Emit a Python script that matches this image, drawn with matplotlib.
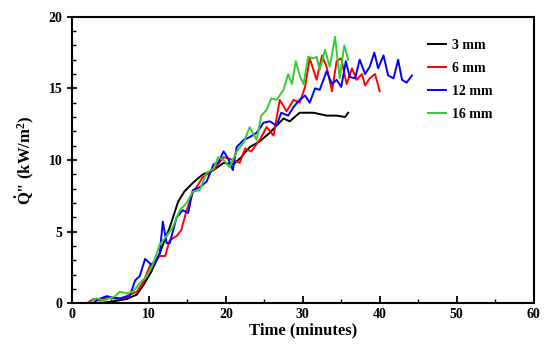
import numpy as np
import matplotlib
matplotlib.use('Agg')
import matplotlib.pyplot as plt
from matplotlib.ticker import MultipleLocator

## heat flux curves (time in minutes, kW/m2)
t_3 = [1.5, 3.0, 4.9, 7.1, 8.4, 9.2, 10.3, 11.4, 12.7, 13.8, 14.6, 15.7, 17.0, 18.4, 19.7,
       21.0, 22.0, 23.1, 24.4, 25.7, 27.5, 28.3, 29.6, 31.4, 33.1, 34.4, 35.5, 35.9]
q_3 = [0.0, 0.0, 0.1, 0.3, 0.6, 1.2, 2.2, 3.5, 5.3, 7.1, 7.8, 8.4, 9.0, 9.3, 9.8,
       9.7, 10.2, 10.9, 11.3, 11.9, 12.9, 12.7, 13.3, 13.3, 13.1, 13.1, 13.0, 13.3]

t_6 = [1.9, 2.8, 3.6, 4.5, 6.2, 7.5, 8.4, 9.3, 10.1, 11.4, 12.1, 12.7, 13.6, 14.2, 14.9, 15.7,
       17.0, 18.4, 19.7, 21.0, 21.8, 22.5, 23.3, 24.4, 25.3, 26.2, 27.0, 27.9, 28.8, 29.6,
       30.3, 30.9, 31.8, 32.5, 33.1, 33.8, 34.4, 35.0, 35.7, 36.4, 37.0, 37.7, 38.1, 38.7,
       39.4, 40.0]
q_6 = [0.0, 0.3, 0.2, 0.4, 0.3, 0.6, 0.8, 1.5, 2.6, 3.3, 3.3, 4.4, 4.7, 5.1, 6.5, 7.7,
       8.8, 9.3, 10.2, 10.0, 9.8, 10.8, 10.6, 11.4, 12.3, 11.7, 14.2, 13.4, 14.2, 14.0,
       15.1, 17.1, 15.6, 17.3, 16.5, 14.8, 16.9, 17.1, 15.3, 16.4, 15.6, 16.0, 15.2, 15.7,
       16.0, 14.8]

t_12 = [2.7, 3.5, 4.5, 5.3, 6.2, 7.5, 8.2, 8.8, 9.5, 10.1, 10.5, 11.0, 11.4, 11.8, 12.3,
        12.7, 13.6, 14.4, 15.1, 15.7, 16.6, 17.5, 18.4, 19.0, 19.7, 20.3, 20.9, 21.4, 22.3,
        23.1, 24.0, 24.9, 25.7, 26.6, 27.2, 28.1, 28.8, 29.6, 30.3, 30.9, 31.6, 32.2, 33.1,
        33.8, 34.4, 35.0, 35.6, 36.1, 36.8, 37.4, 38.1, 38.7, 39.3, 39.8, 40.5, 41.1, 41.8,
        42.4, 42.9, 43.5, 44.2]
q_12 = [0.0, 0.3, 0.5, 0.4, 0.35, 0.5, 1.6, 1.9, 3.1, 2.8, 2.6, 3.0, 3.5, 5.7, 4.2,
        4.2, 6.0, 6.5, 6.3, 7.9, 8.1, 8.5, 9.7, 9.8, 10.6, 10.1, 9.3, 10.9, 11.4,
        11.6, 11.9, 12.6, 12.7, 12.4, 13.3, 13.1, 13.7, 14.2, 14.5, 14.0, 15.0, 14.9, 16.2,
        15.3, 15.6, 15.1, 16.9, 15.8, 15.7, 17.0, 16.0, 16.5, 17.5, 16.4, 17.3, 15.9, 15.7,
        17.0, 15.6, 15.4, 15.9]

t_16 = [2.7, 3.2, 4.1, 4.9, 5.6, 6.2, 7.1, 7.9, 8.8, 9.7, 10.5, 11.4, 12.3, 13.1, 14.0,
        14.9, 15.7, 16.6, 17.5, 18.4, 19.0, 19.7, 20.5, 21.4, 22.3, 23.1, 24.0, 24.6, 25.3,
        25.9, 26.6, 27.5, 28.1, 28.6, 29.1, 29.6, 30.1, 30.7, 31.4, 31.8, 32.2, 32.9, 33.5,
        34.2, 34.8, 35.4, 35.9]
q_16 = [0.2, 0.35, 0.2, 0.35, 0.5, 0.8, 0.7, 0.8, 1.4, 1.9, 2.7, 4.1, 4.7, 5.3, 6.5,
        7.0, 7.8, 7.9, 9.1, 9.4, 10.2, 10.0, 9.5, 10.6, 11.2, 12.3, 11.4, 13.1, 13.5,
        14.3, 14.2, 14.9, 16.0, 15.3, 16.9, 15.9, 15.3, 17.2, 17.1, 17.2, 16.3, 17.7, 16.5,
        18.6, 15.7, 18.0, 17.0]

labels = ['3 mm', '6 mm', '12 mm', '16 mm']
colors = ['black', '#ff0000', '#0000ff', '#33cc33']

plt.rcParams['font.family'] = 'Liberation Serif'
plt.rcParams['font.weight'] = 'bold'
plt.rcParams['mathtext.fontset'] = 'custom'
plt.rcParams['mathtext.rm'] = 'Liberation Serif:bold'
plt.rcParams['mathtext.bf'] = 'Liberation Serif:bold'
plt.rcParams['mathtext.it'] = 'Liberation Serif:bold'

fig = plt.figure(figsize=(5.5, 3.56), dpi=100)
ax = fig.add_axes([0.131, 0.148, 0.839, 0.805])

for t, q, lab, c in zip([t_3, t_6, t_12, t_16], [q_3, q_6, q_12, q_16], labels, colors):
    ax.plot(t, q, color=c, lw=1.4, label=lab)

ax.set_xlim(0, 60)
ax.set_ylim(0, 20)
ax.xaxis.set_major_locator(MultipleLocator(10))
ax.xaxis.set_minor_locator(MultipleLocator(5))
ax.yaxis.set_major_locator(MultipleLocator(5))
ax.yaxis.set_minor_locator(MultipleLocator(1))
ax.tick_params(axis='x', which='major', direction='in', length=5, width=1.3, labelsize=10)
ax.tick_params(axis='x', which='minor', direction='in', length=3, width=1.0)
ax.tick_params(axis='y', which='major', direction='inout', length=7, width=1.3, labelsize=10)
ax.tick_params(axis='y', which='minor', direction='in', length=3, width=1.0)
for s in ax.spines.values():
    s.set_linewidth(1.5)

ax.set_xlabel('Time (minutes)', fontsize=12, fontweight='bold', labelpad=1)
ax.set_ylabel(r'$\dot{\mathrm{Q}}$" (kW/m$^{2}$)', fontsize=12, fontweight='bold', labelpad=8)

ax.legend(loc='upper left', bbox_to_anchor=(0.772, 0.924), frameon=False, fontsize=10,
          handlelength=1.3, handletextpad=0.4, labelspacing=0.72,
          borderpad=0, borderaxespad=0)

plt.savefig('out.png', dpi=100)
